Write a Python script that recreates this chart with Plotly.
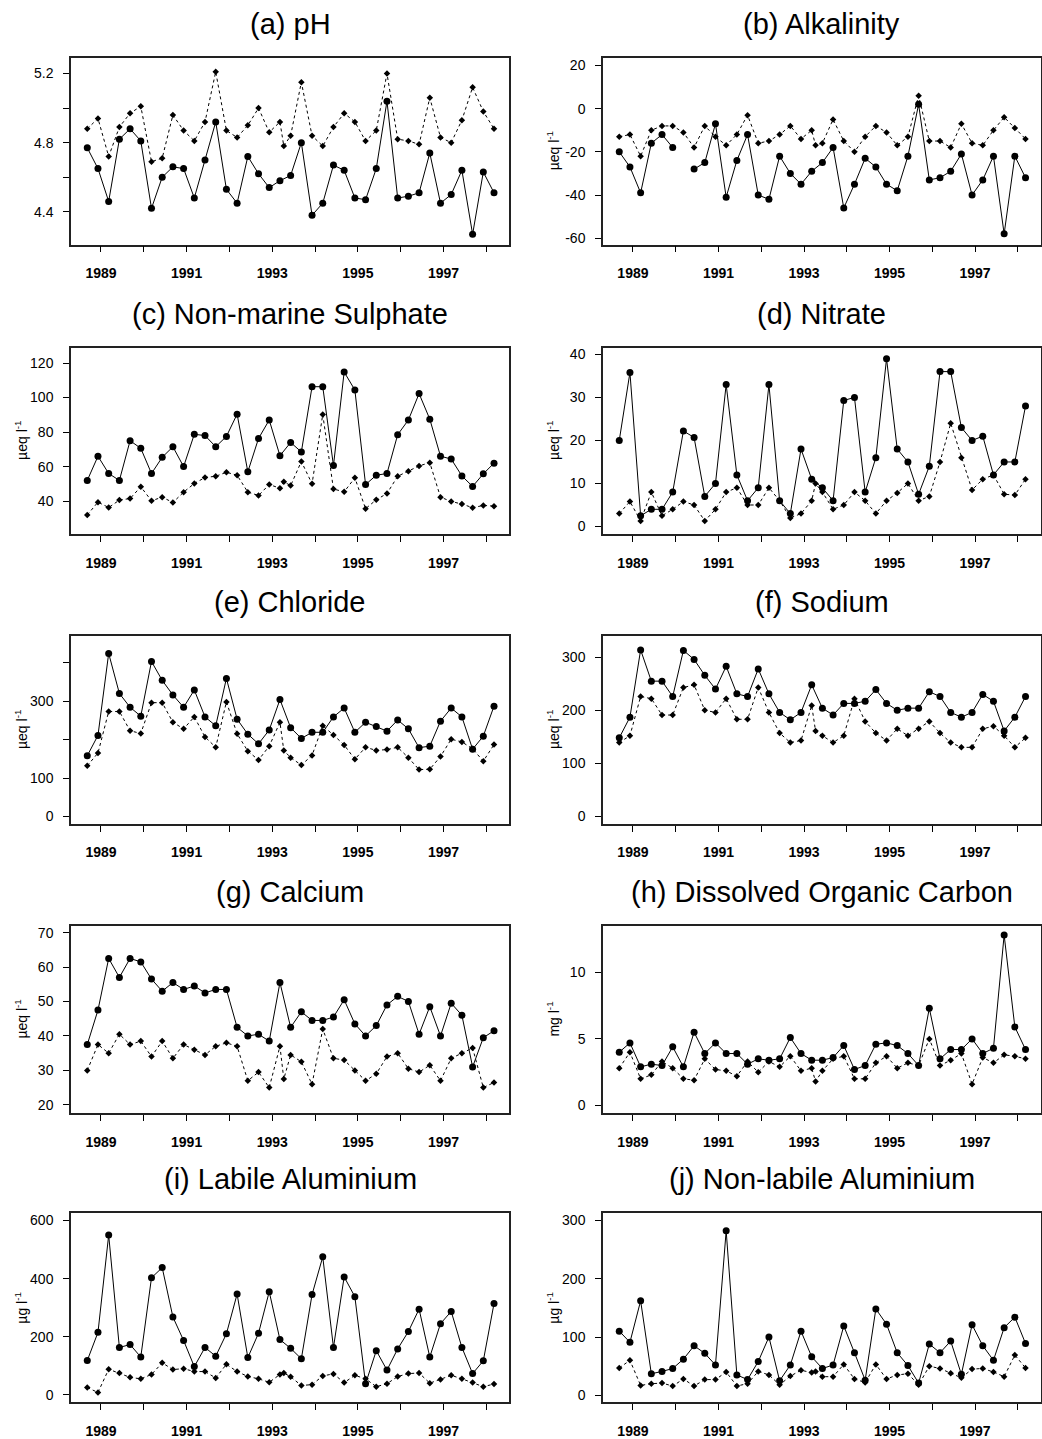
import plotly.graph_objects as go

# ---------------- data ----------------
# sampling dates (decimal years), quarterly
dates = [1988.68, 1988.93, 1989.18, 1989.43, 1989.68, 1989.93, 1990.18, 1990.43, 1990.68, 1990.93,
         1991.18, 1991.43, 1991.68, 1991.93, 1992.18, 1992.43, 1992.68, 1992.93, 1993.18, 1993.43,
         1993.68, 1993.93, 1994.18, 1994.43, 1994.68, 1994.93, 1995.18, 1995.43, 1995.68, 1995.93,
         1996.18, 1996.43, 1996.68, 1996.93, 1997.18, 1997.43, 1997.68, 1997.93, 1998.18]
# the dashed series has one extra sample in spring 1993
dates_dashed = [1988.68, 1988.93, 1989.18, 1989.43, 1989.68, 1989.93, 1990.18, 1990.43, 1990.68, 1990.93,
                1991.18, 1991.43, 1991.68, 1991.93, 1992.18, 1992.43, 1992.68, 1992.93, 1993.18, 1993.27,
                1993.43, 1993.68, 1993.93, 1994.18, 1994.43, 1994.68, 1994.93, 1995.18, 1995.43, 1995.68,
                1995.93, 1996.18, 1996.43, 1996.68, 1996.93, 1997.18, 1997.43, 1997.68, 1997.93, 1998.18]

year_ticks = [1989, 1990, 1991, 1992, 1993, 1994, 1995, 1996, 1997, 1998]
year_labelled = [1989, 1991, 1993, 1995, 1997]
year_labels = ["1989", "1991", "1993", "1995", "1997"]

ph_solid = [4.77, 4.65, 4.46, 4.82, 4.88, 4.81, 4.42, 4.60, 4.66, 4.65, 4.48, 4.70, 4.92, 4.53, 4.45, 4.72,
            4.62, 4.54, 4.58, 4.61, 4.80, 4.38, 4.45, 4.67, 4.64, 4.48, 4.47, 4.65, 5.04, 4.48, 4.49, 4.51,
            4.74, 4.45, 4.50, 4.64, 4.27, 4.63, 4.51]
ph_dashed = [4.88, 4.94, 4.72, 4.89, 4.97, 5.01, 4.69, 4.71, 4.96, 4.87, 4.81, 4.92, 5.21, 4.87, 4.83, 4.90,
             5.00, 4.86, 4.92, 4.78, 4.84, 5.15, 4.84, 4.78, 4.89, 4.97, 4.92, 4.81, 4.87, 5.20, 4.82, 4.81,
             4.79, 5.06, 4.83, 4.80, 4.93, 5.12, 4.98, 4.88]

alk_solid = [-20, -27, -39, -16, -12, -18, None, -28, -25, -7, -41, -24, -12, -40, -42, -22, -30, -35, -29, -25,
             -18, -46, -35, -23, -27, -35, -38, -22, 2, -33, -32, -29, -21, -40, -33, -22, -58, -22, -32]
alk_dashed = [-13, -12, -22, -10, -8, -8, -11, -18, -8, -13, -17, -12, -3, -16, -15, -12, -8, -14, -10, -17,
              -16, -5, -15, -20, -13, -8, -11, -17, -13, 6, -15, -15, -18, -7, -16, -17, -10, -4, -9, -14]

so4_solid = [52, 66, 56, 52, 75, 70.6, 56, 65.4, 71.5, 60, 78.7, 78, 71.5, 77.5, 90.4, 57, 76.3, 87, 66.3, 74,
             68.5, 106.3, 106.3, 60.6, 114.8, 104.4, 49.6, 55, 56, 78.5, 87, 102.3, 87.5, 66, 64.4, 54.6, 48.5,
             55.8, 62]
so4_dashed = [32, 39.4, 36.3, 40.6, 41.5, 48.3, 40.2, 42.3, 39.2, 45.2, 50.2, 53.7, 54.4, 56.7, 55, 45.2, 43.3,
              49.6, 47.5, 51.2, 49, 63, 50, 90.2, 47, 45.4, 53.5, 35.6, 40.8, 44.4, 54.4, 57.3, 60.4, 62.3, 42.3,
              39.8, 38.3, 36.2, 37.5, 37.1]

no3_solid = [20, 35.8, 2.5, 4, 4, 8, 22.2, 20.7, 7, 10, 33, 12, 6, 9, 33, 6, 3, 18, 11, 9, 6, 29.3, 30, 8, 16,
             39, 18, 15, 7.5, 14, 36, 36, 23, 20, 21, 12, 15, 15, 28]
no3_dashed = [3, 5.8, 1.3, 8, 2.5, 4, 5.8, 5, 1.3, 4, 8, 9, 5, 5, 9, 6, 2, 3, 6, 10, 8, 4, 5, 8, 6, 3, 6, 7.8,
              10, 6, 7, 15, 24, 16, 8.5, 11, 12, 7.5, 7.3, 11]

cl_solid = [158, 211, 424, 320, 284, 261, 403, 354, 316, 284, 329, 259, 236, 359, 253, 214, 189, 225, 304, 231,
            203, 219, 219, 259, 282, 219, 245, 234, 222, 251, 228, 179, 183, 248, 282, 259, 175, 209, 287]
cl_dashed = [132, 165, 273, 273, 223, 216, 296, 296, 245, 228, 259, 207, 180, 298, 215, 170, 147, 183, 245, 172,
             153, 134, 159, 236, 212, 186, 149, 180, 172, 174, 180, 153, 122, 123, 156, 201, 194, 176, 144, 187]

na_solid = [148, 187, 314, 255, 255, 226, 313, 296, 266, 240, 283, 231, 226, 278, 231, 196, 182, 196, 248, 204,
            191, 213, 213, 217, 239, 213, 200, 204, 204, 235, 226, 196, 187, 196, 230, 217, 161, 187, 226]
na_dashed = [139, 152, 226, 222, 191, 191, 243, 248, 200, 196, 222, 183, 183, 243, 196, 157, 139, 143, 209, 161,
             152, 139, 152, 222, 179, 157, 143, 165, 152, 165, 179, 157, 139, 130, 130, 165, 170, 152, 130, 148]

ca_solid = [37.5, 47.5, 62.5, 57, 62.5, 61.5, 56.5, 53, 55.5, 53.5, 54.5, 52.5, 53.5, 53.5, 42.5, 40, 40.5, 38.5,
            55.5, 42.5, 47, 44.5, 44.5, 45.5, 50.5, 43.5, 40, 43, 49, 51.5, 50, 40.5, 48.5, 40, 49.5, 46, 31,
            39.5, 41.5]
ca_dashed = [30, 37.5, 35, 40.5, 37.5, 38.5, 34, 38.5, 33.5, 37.5, 36, 34.5, 37, 38, 37, 27, 29.5, 25, 37, 27.5,
             34.5, 32.5, 26, 42, 33.5, 33, 30, 27, 29, 34, 35, 30.5, 29.5, 31.5, 27, 33.5, 35, 36.5, 25, 26.5]

doc_solid = [4.0, 4.7, 2.9, 3.1, 3.0, 4.4, 2.9, 5.5, 3.9, 4.7, 3.9, 3.9, 3.1, 3.5, 3.4, 3.5, 5.1, 3.9, 3.4, 3.4,
             3.6, 4.5, 2.7, 3.0, 4.6, 4.7, 4.5, 3.9, 3.0, 7.3, 3.5, 4.2, 4.2, 5.0, 3.9, 4.3, 12.8, 5.9, 4.2]
doc_dashed = [2.8, 4.0, 2.0, 2.3, 3.3, 2.8, 2.0, 1.9, 3.5, 2.7, 2.6, 2.2, 3.3, 2.5, 3.3, 2.9, 3.7, 2.6, 2.8, 1.8,
              2.6, 3.5, 3.7, 2.0, 2.0, 3.2, 3.7, 2.8, 3.2, 3.0, 5.0, 3.0, 3.4, 3.9, 1.6, 3.6, 3.2, 3.8, 3.7, 3.5]

lab_solid = [118, 215, 550, 163, 173, 130, 403, 438, 268, 187, 97, 163, 133, 210, 347, 128, 212, 355, 190, 160,
             124, 345, 475, 163, 406, 338, 38, 152, 85, 158, 218, 295, 130, 245, 287, 163, 73, 117, 314]
lab_dashed = [25, 8, 88, 75, 60, 55, 70, 110, 87, 90, 80, 80, 58, 105, 80, 63, 55, 43, 70, 75, 62, 32, 35, 65,
              72, 42, 67, 55, 28, 38, 63, 73, 75, 40, 53, 67, 55, 42, 28, 37]

nl_solid = [110, 91, 162, 37, 41, 46, 62, 85, 72, 52, 282, 35, 27, 58, 100, 25, 52, 110, 66, 46, 52, 119, 73, 26,
            148, 122, 73, 51, 21, 88, 73, 93, 36, 121, 85, 60, 116, 134, 89]
nl_dashed = [47, 60, 17, 20, 21, 16, 28, 16, 27, 27, 40, 16, 20, 41, 35, 18, 33, 43, 39, 41, 32, 32, 53, 28, 22,
             53, 28, 35, 37, 18, 50, 46, 38, 30, 45, 46, 40, 32, 69, 47]

UEQ = "µeq l<sup>-1</sup>"
panels = [
    dict(title="(a) pH", s=ph_solid, d=ph_dashed, unit=None, yr=[4.21, 5.29],
         tv=[4.4, 4.8, 5.2], tt=["4.4", "4.8", "5.2"], minor=[4.4, 4.6, 4.8, 5.0, 5.2]),
    dict(title="(b) Alkalinity", s=alk_solid, d=alk_dashed, unit=UEQ, yr=[-63, 23.5],
         tv=[-60, -40, -20, 0, 20], tt=["-60", "-40", "-20", "0", "20"], minor=None),
    dict(title="(c) Non-marine Sulphate", s=so4_solid, d=so4_dashed, unit=UEQ, yr=[20.8, 129],
         tv=[40, 60, 80, 100, 120], tt=["40", "60", "80", "100", "120"], minor=None),
    dict(title="(d) Nitrate", s=no3_solid, d=no3_dashed, unit=UEQ, yr=[-1.8, 41.6],
         tv=[0, 10, 20, 30, 40], tt=["0", "10", "20", "30", "40"], minor=None),
    dict(title="(e) Chloride", s=cl_solid, d=cl_dashed, unit=UEQ, yr=[-19, 469],
         tv=[0, 100, 300], tt=["0", "100", "300"], minor=[0, 100, 200, 300, 400]),
    dict(title="(f) Sodium", s=na_solid, d=na_dashed, unit=UEQ, yr=[-14.4, 340],
         tv=[0, 100, 200, 300], tt=["0", "100", "200", "300"], minor=None),
    dict(title="(g) Calcium", s=ca_solid, d=ca_dashed, unit=UEQ, yr=[17.5, 72],
         tv=[20, 30, 40, 50, 60, 70], tt=["20", "30", "40", "50", "60", "70"], minor=None),
    dict(title="(h) Dissolved Organic Carbon", s=doc_solid, d=doc_dashed, unit="mg l<sup>-1</sup>",
         yr=[-0.6, 13.5], tv=[0, 5, 10], tt=["0", "5", "10"], minor=None),
    dict(title="(i) Labile Aluminium", s=lab_solid, d=lab_dashed, unit="µg l<sup>-1</sup>", yr=[-25, 625],
         tv=[0, 200, 400, 600], tt=["0", "200", "400", "600"], minor=None),
    dict(title="(j) Non-labile Aluminium", s=nl_solid, d=nl_dashed, unit="µg l<sup>-1</sup>", yr=[-11.5, 312],
         tv=[0, 100, 200, 300], tt=["0", "100", "200", "300"], minor=None),
]

# ---------------- layout geometry (pixels) ----------------
W, H = 1042, 1439
col_x = [(71, 509), (603, 1040.5)]
row_y = [(57, 244), (347, 534), (636, 824), (926, 1114), (1214, 1403)]
FONT = "Liberation Sans, Arial, Helvetica, sans-serif"

fig = go.Figure()
layout = {}
annotations = []

for i, p in enumerate(panels):
    r, c = divmod(i, 2)
    n = i + 1
    xa, ya = ("x", "y") if n == 1 else (f"x{n}", f"y{n}")
    x0, x1 = col_x[c]
    top, bot = row_y[r]

    fig.add_trace(go.Scatter(
        x=dates, y=p["s"], xaxis=xa, yaxis=ya, mode="lines+markers", showlegend=False,
        line=dict(color="black", width=1), marker=dict(symbol="circle", size=7, color="black"),
        connectgaps=False))
    fig.add_trace(go.Scatter(
        x=dates_dashed, y=p["d"], xaxis=xa, yaxis=ya, mode="lines+markers", showlegend=False,
        line=dict(color="black", width=1, dash="3px,3px"),
        marker=dict(symbol="diamond", size=5, color="black")))

    xkey = "xaxis" if n == 1 else f"xaxis{n}"
    ykey = "yaxis" if n == 1 else f"yaxis{n}"
    layout[xkey] = dict(
        domain=[x0 / W, x1 / W], anchor=ya, range=[1988.30, 1998.53],
        tickmode="array", tickvals=year_labelled, ticktext=year_labels,
        ticks="outside", ticklen=6, tickwidth=1, tickcolor="black",
        minor=dict(tickmode="array", tickvals=year_ticks, ticks="outside", ticklen=6,
                   tickwidth=1, tickcolor="black", showgrid=False),
        showline=True, mirror=True, linecolor="#222", linewidth=1.5,
        showgrid=False, zeroline=False, ticklabelstandoff=9,
        tickfont=dict(family=FONT, size=14, color="black", weight="bold"))
    ydict = dict(
        domain=[1 - bot / H, 1 - top / H], anchor=xa, range=p["yr"],
        tickmode="array", tickvals=p["tv"], ticktext=p["tt"],
        ticks="outside", ticklen=6, tickwidth=1, tickcolor="black",
        showline=True, mirror=True, linecolor="#222", linewidth=1.5,
        showgrid=False, zeroline=False, ticklabelstandoff=7,
        tickfont=dict(family=FONT, size=14, color="black"))
    if p["minor"]:
        ydict["minor"] = dict(tickmode="array", tickvals=p["minor"], ticks="outside", ticklen=6,
                              tickwidth=1, tickcolor="black", showgrid=False)
    layout[ykey] = ydict

    annotations.append(dict(
        text=p["title"], xref="paper", yref="paper", x=(x0 + x1) / 2 / W, y=1 - (top - 34) / H,
        xanchor="center", yanchor="middle", showarrow=False,
        font=dict(family=FONT, size=29, color="black")))
    if p["unit"]:
        annotations.append(dict(
            text=p["unit"], xref="paper", yref="paper", x=(x0 - 50) / W, y=1 - (top + bot) / 2 / H,
            xanchor="center", yanchor="middle", textangle=-90, showarrow=False,
            font=dict(family=FONT, size=14, color="black")))

fig.update_layout(
    width=W, height=H, margin=dict(l=0, r=0, t=0, b=0),
    paper_bgcolor="white", plot_bgcolor="white",
    annotations=annotations, **layout)

fig.write_html("out.html")
